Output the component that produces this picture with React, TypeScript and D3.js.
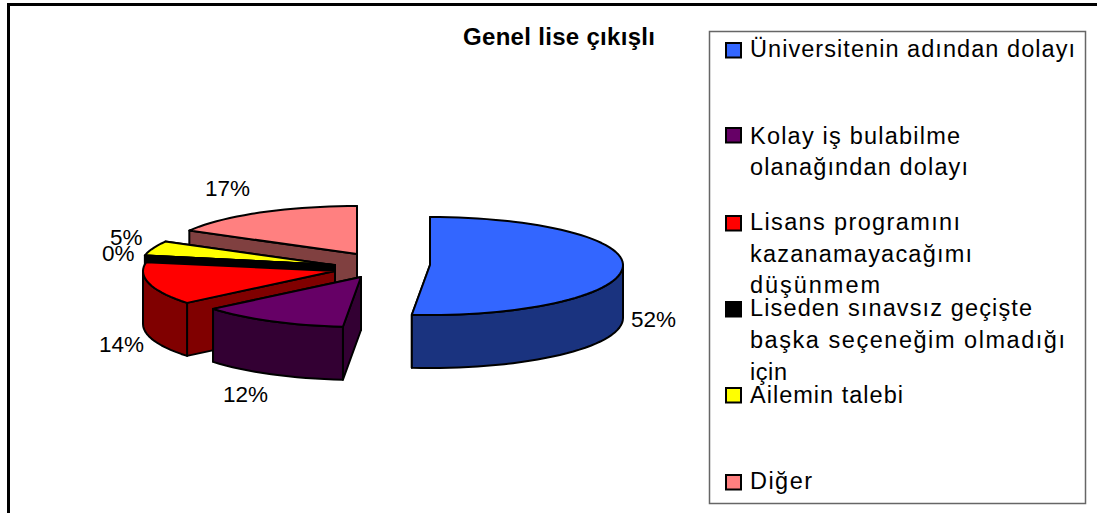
import React from "react";
import * as d3 from "d3";

const categories = ["Üniversitenin adından dolayı", "Kolay iş bulabilme olanağından dolayı", "Lisans programını kazanamayacağımı düşünmem", "Liseden sınavsız geçişte başka seçeneğim olmadığı için", "Ailemin talebi", "Diğer"];
const values = [51.5, 12.5, 13.9, 0.3, 4.9, 16.9];
const valueLabels = ["52%", "12%", "14%", "0%", "5%", "17%"];
const topColors = ["#3366FF", "#660066", "#FF0000", "#000000", "#FFFF00", "#FF8080"];
const sideColors = ["#1A337F", "#330033", "#800000", "#000000", "#000000", "#804040"];
const apexX = [430, 361, 335, 335, 333, 357];
const apexY = [265, 277, 271, 265, 265, 254];
const sliceRx = [193, 192, 192, 193, 192, 192];
const labelX = [631, 223, 99, 102, 110, 205];
const labelY = [327, 402, 352, 261, 245, 196];
const legendLines = [
  ["Üniversitenin adından dolayı"],
  ["Kolay iş bulabilme", "olanağından dolayı"],
  ["Lisans programını", "kazanamayacağımı", "düşünmem"],
  ["Liseden sınavsız geçişte", "başka seçeneğim olmadığı", "için"],
  ["Ailemin talebi"],
  ["Diğer"],
];
const legendBaselines = [[57], [144, 175], [230, 262, 293], [316, 348, 380], [403], [489]];
const legendWidths = [[325], [210, 218], [210, 222, 130], [282, 315, 37], [153], [62]];
const legendMarkerY = [43, 128, 216, 302, 388, 475];

const RY_BACK = 48;
const RY_FRONT = 50;
const DEPTH = 53;
const FONT = "'Liberation Sans', Arial, sans-serif";

const angles = d3.pie<number>().sort(null)(values);
const line = d3.line<[number, number]>();

function pt(i: number, a: number, drop = 0): [number, number] {
  const c = Math.cos(a);
  return [apexX[i] + sliceRx[i] * Math.sin(a), apexY[i] - (c > 0 ? RY_BACK : RY_FRONT) * c + drop];
}

function arcPts(i: number, a0: number, a1: number, drop = 0): [number, number][] {
  const n = Math.max(2, Math.ceil(Math.abs(a1 - a0) / 0.05));
  return d3.range(n + 1).map((k) => pt(i, a0 + ((a1 - a0) * k) / n, drop));
}

function Slice({ i }: { i: number }) {
  const { startAngle: a0, endAngle: a1 } = angles[i];
  const top = topColors[i];
  const side = sideColors[i];
  const apex: [number, number] = [apexX[i], apexY[i]];
  const apexLow: [number, number] = [apexX[i], apexY[i] + DEPTH];
  const cut = (a: number) => line([apex, pt(i, a), pt(i, a, DEPTH), apexLow]) + "Z";
  const w0 = Math.max(a0, Math.PI / 2);
  const w1 = Math.min(a1, (3 * Math.PI) / 2);
  const hasWall = w1 > w0;
  const wall = hasWall ? line([...arcPts(i, w0, w1), ...arcPts(i, w1, w0, DEPTH)]) + "Z" : null;
  const face = line([apex, ...arcPts(i, a0, a1)]) + "Z";
  const s = { stroke: "#000", strokeWidth: 2, strokeLinejoin: "round" as const };
  return (
    <g>
      <path d={cut(a1)} fill={side} {...s} />
      <path d={cut(a0)} fill={side} {...s} />
      {wall && <path d={wall} fill={side} {...s} />}
      <path d={face} fill={top} {...s} />
    </g>
  );
}

export default function App() {
  const order = [5, 4, 3, 2, 1, 0];
  return (
    <svg width={1097} height={513} style={{ position: "absolute", left: 0, top: 0, display: "block" }} fontFamily={FONT}>
      <rect width={1097} height={513} fill="#fff" />
      <path d="M8.5,513V4.5H1097" fill="none" stroke="#000" strokeWidth={3} />
      <text x={463} y={45} fontSize={24} fontWeight="bold" textLength={192} lengthAdjust="spacing" fill="#000">Genel lise çıkışlı</text>
      {order.map((i) => <Slice key={i} i={i} />)}
      {valueLabels.map((t, i) => (
        <text key={i} x={labelX[i]} y={labelY[i]} fontSize={22.5} fill="#000">{t}</text>
      ))}
      <rect x={709.5} y={31.5} width={376} height={472} fill="none" stroke="#666" strokeWidth={1.5} />
      {categories.map((c, i) => (
        <g key={c}>
          <rect x={726} y={legendMarkerY[i]} width={15} height={14.5} fill={topColors[i]} stroke="#000" strokeWidth={2} />
          {legendLines[i].map((l, j) => (
            <text key={j} x={750} y={legendBaselines[i][j]} fontSize={23.5} fill="#000" textLength={legendWidths[i][j]} lengthAdjust="spacing">{l}</text>
          ))}
        </g>
      ))}
    </svg>
  );
}
